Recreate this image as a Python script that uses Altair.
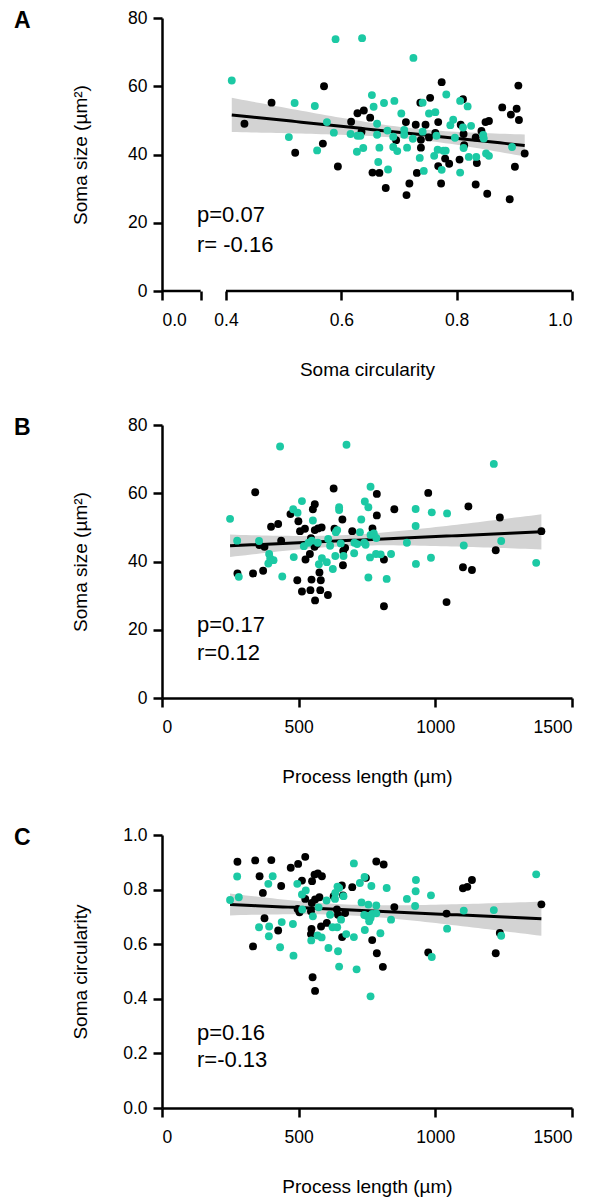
import altair as alt
import numpy as np
import pandas as pd

# ---------------- data ----------------
# Panel A: soma circularity (x) vs soma size (y)
a_black_x = [0.432, 0.479, 0.570, 0.520, 0.568, 0.594, 0.617, 0.628, 0.639, 0.650, 0.635, 0.654, 0.666,
             0.677, 0.718, 0.713, 0.695, 0.712, 0.729, 0.746, 0.754, 0.737, 0.774, 0.768, 0.738, 0.738,
             0.752, 0.763, 0.731, 0.773, 0.768, 0.780, 0.787, 0.805, 0.811, 0.807, 0.812, 0.813, 0.833,
             0.843, 0.850, 0.856, 0.835, 0.833, 0.853, 0.879, 0.894, 0.904, 0.908, 0.907, 0.901, 0.892, 0.918]
a_black_y = [49.0, 55.2, 60.0, 40.5, 43.2, 36.5, 49.6, 52.1, 52.9, 50.8, 46.7, 34.7, 34.6,
             30.2, 31.5, 28.1, 44.2, 49.5, 48.7, 48.7, 56.6, 55.2, 61.2, 49.5, 44.3, 42.0,
             45.0, 46.3, 34.6, 31.5, 36.6, 38.8, 37.3, 38.5, 56.2, 48.7, 46.0, 42.7, 45.0,
             46.9, 49.5, 49.8, 37.5, 31.2, 28.5, 53.8, 51.7, 53.4, 50.1, 60.2, 36.4, 26.9, 40.3]
a_teal_x = [0.410, 0.590, 0.636, 0.725, 0.519, 0.554, 0.509, 0.575, 0.587, 0.558, 0.653, 0.656, 0.674,
            0.692, 0.704, 0.662, 0.616, 0.628, 0.633, 0.662, 0.680, 0.690, 0.709, 0.709, 0.724, 0.741,
            0.741, 0.752, 0.763, 0.782, 0.806, 0.819, 0.794, 0.789, 0.811, 0.825, 0.765, 0.797, 0.846,
            0.847, 0.812, 0.767, 0.777, 0.781, 0.761, 0.821, 0.834, 0.851, 0.856, 0.896, 0.736, 0.774,
            0.806, 0.743, 0.627, 0.638, 0.666, 0.690, 0.697, 0.714, 0.664, 0.681]
a_teal_y = [61.7, 73.8, 74.1, 68.3, 55.1, 54.2, 45.1, 49.5, 46.4, 41.2, 57.4, 54.0, 55.1,
            55.7, 52.0, 49.0, 46.0, 45.5, 45.5, 45.8, 47.0, 45.2, 47.2, 45.8, 44.6, 46.7,
            55.2, 52.0, 52.4, 57.6, 55.7, 54.1, 50.2, 48.6, 47.9, 48.4, 45.5, 44.9, 45.7,
            44.7, 41.9, 41.4, 41.1, 41.1, 39.6, 39.3, 39.3, 40.3, 39.6, 42.2, 39.0, 35.5,
            34.7, 35.2, 40.8, 41.9, 42.0, 42.2, 41.0, 42.0, 37.8, 35.6]

# Panel B: process length (x) vs soma size (y)
b_black_x = [341, 276, 333, 370, 356, 375, 399, 425, 436, 470, 499, 505, 523, 495, 512, 543, 579, 560,
             607, 547, 581, 576, 525, 541, 552, 559, 559, 571, 584, 545, 558, 567, 628, 660, 631, 662,
             670, 663, 696, 770, 786, 786, 812, 812, 850, 974, 1041, 1101, 1134, 1121, 1236, 1221, 1388]
b_black_y = [60.3, 36.5, 36.5, 37.3, 44.8, 44.3, 50.2, 51.0, 46.1, 53.9, 51.8, 48.9, 49.6, 34.5, 31.2,
             31.6, 31.6, 28.6, 30.2, 34.7, 34.5, 36.8, 40.6, 42.2, 55.3, 56.8, 49.2, 49.7, 50.0, 46.8,
             44.3, 45.1, 61.4, 52.3, 49.6, 38.9, 44.0, 43.1, 48.9, 49.7, 59.8, 53.5, 40.6, 26.9, 55.3,
             60.1, 28.1, 38.3, 37.5, 56.1, 52.9, 43.3, 48.9]
b_teal_x = [432, 675, 1214, 249, 275, 281, 355, 392, 396, 389, 408, 440, 480, 496, 512, 482, 552, 519,
            536, 548, 570, 574, 585, 603, 608, 615, 625, 648, 648, 641, 636, 654, 634, 664, 703, 729,
            724, 704, 714, 740, 745, 742, 755, 763, 763, 784, 775, 761, 783, 800, 755, 822, 838, 896,
            928, 928, 929, 987, 984, 1043, 1104, 1241, 1369]
b_teal_y = [73.7, 74.2, 68.6, 52.5, 46.1, 35.5, 46.0, 42.2, 40.9, 39.4, 40.4, 35.6, 55.3, 54.3, 57.7,
            41.3, 52.0, 44.5, 45.5, 46.1, 45.5, 39.2, 41.0, 39.8, 46.6, 44.6, 37.8, 55.9, 55.1, 49.2,
            48.6, 45.3, 41.6, 41.6, 42.4, 52.3, 48.6, 45.5, 45.1, 45.5, 44.9, 57.6, 55.9, 61.9, 47.8,
            46.9, 48.2, 41.2, 42.2, 42.1, 35.3, 34.9, 42.2, 45.5, 55.4, 50.4, 39.3, 54.4, 41.1, 54.1,
            44.7, 46.0, 39.6]

# Panel C: process length (x) vs soma circularity (y)
c_black_x = [276, 341, 400, 471, 498, 524, 357, 436, 369, 512, 549, 558, 570, 585, 524, 503, 496, 548,
             560, 576, 545, 375, 425, 333, 547, 545, 582, 603, 551, 560, 628, 658, 662, 640, 644, 670,
             659, 696, 746, 784, 811, 769, 786, 808, 850, 974, 1041, 1101, 1117, 1134, 1236, 1221, 1388]
c_black_y = [0.902, 0.907, 0.908, 0.880, 0.894, 0.920, 0.849, 0.813, 0.788, 0.833, 0.831, 0.855, 0.859,
             0.849, 0.766, 0.717, 0.729, 0.751, 0.764, 0.772, 0.721, 0.695, 0.650, 0.592, 0.656, 0.637,
             0.665, 0.678, 0.479, 0.429, 0.776, 0.815, 0.779, 0.727, 0.708, 0.714, 0.626, 0.809, 0.843,
             0.903, 0.892, 0.615, 0.567, 0.517, 0.736, 0.570, 0.712, 0.805, 0.810, 0.835, 0.641, 0.567, 0.746]
c_teal_x = [249, 275, 281, 355, 392, 391, 389, 405, 432, 438, 479, 481, 495, 512, 526, 513, 552, 546,
            569, 584, 573, 602, 609, 615, 624, 641, 633, 634, 642, 648, 664, 655, 644, 648, 674, 702,
            712, 702, 724, 741, 730, 755, 784, 740, 750, 769, 784, 758, 763, 742, 799, 766, 822, 763,
            838, 896, 929, 928, 926, 984, 987, 1043, 1104, 1214, 1241, 1369]
c_teal_y = [0.762, 0.848, 0.772, 0.662, 0.665, 0.629, 0.821, 0.849, 0.589, 0.681, 0.674, 0.558, 0.821,
            0.782, 0.797, 0.727, 0.702, 0.614, 0.632, 0.625, 0.735, 0.760, 0.586, 0.708, 0.662, 0.662,
            0.766, 0.788, 0.811, 0.806, 0.776, 0.690, 0.574, 0.518, 0.637, 0.626, 0.508, 0.896, 0.824,
            0.846, 0.753, 0.745, 0.742, 0.707, 0.703, 0.711, 0.713, 0.684, 0.696, 0.652, 0.640, 0.813,
            0.806, 0.409, 0.690, 0.766, 0.835, 0.794, 0.740, 0.779, 0.553, 0.657, 0.723, 0.725, 0.631, 0.856]

panel_letters = ["A", "B", "C"]
p_texts = ["p=0.07", "p=0.17", "p=0.16"]
r_texts = ["r= -0.16", "r=0.12", "r=-0.13"]

a_x_ticks = [0.0, 0.067, 0.4, 0.6, 0.8, 1.0]
a_x_segments = {"x": [0.0, 0.4], "x2": [0.067, 1.0]}
len_ticks = [0, 500, 1000, 1500]
size_ticks = [0, 20, 40, 60, 80]
circ_ticks = [0.0, 0.2, 0.4, 0.6, 0.8, 1.0]

TEAL = "#1CC9A4"
BLACK = "#000000"
BAND = "#D3D3D3"
FONT = "Liberation Sans"
W, H = 410, 273


def fit_band(xs, ys, n_grid=60):
    x = np.asarray(xs, float)
    y = np.asarray(ys, float)
    n = len(x)
    slope, intercept = np.polyfit(x, y, 1)
    resid = y - (slope * x + intercept)
    s = np.sqrt(np.sum(resid ** 2) / (n - 2))
    xbar = x.mean()
    sxx = np.sum((x - xbar) ** 2)
    grid = np.linspace(x.min(), x.max(), n_grid)
    yhat = slope * grid + intercept
    se = s * np.sqrt(1.0 / n + (grid - xbar) ** 2 / sxx)
    t = 1.98
    band = pd.DataFrame({"x": grid, "y": yhat - t * se, "y2": yhat + t * se})
    line = pd.DataFrame({"x": grid, "y": yhat})
    return band, line


def panel(letter, bx, by, tx, ty, xenc, yenc, ptxt, rtxt, p_y, r_y, extra=None):
    band, line = fit_band(bx + tx, by + ty)
    layers = [
        alt.Chart(band).mark_area(color=BAND, opacity=1).encode(x=xenc, y=yenc, y2="y2:Q"),
        alt.Chart(line).mark_line(color=BLACK, strokeWidth=3).encode(x=xenc, y=yenc),
        alt.Chart(pd.DataFrame({"x": bx, "y": by})).mark_circle(size=62, color=BLACK, opacity=1).encode(x=xenc, y=yenc),
        alt.Chart(pd.DataFrame({"x": tx, "y": ty})).mark_circle(size=62, color=TEAL, opacity=1).encode(x=xenc, y=yenc),
        alt.Chart(pd.DataFrame({"t": [ptxt]})).mark_text(align="left", baseline="middle", fontSize=22, font=FONT, color=BLACK)
        .encode(x=alt.value(35), y=alt.value(p_y), text="t:N"),
        alt.Chart(pd.DataFrame({"t": [rtxt]})).mark_text(align="left", baseline="middle", fontSize=22, font=FONT, color=BLACK)
        .encode(x=alt.value(35), y=alt.value(r_y), text="t:N"),
        alt.Chart(pd.DataFrame({"t": [letter]})).mark_text(align="left", baseline="middle", fontSize=23, font=FONT,
                                                           fontWeight="bold", color=BLACK)
        .encode(x=alt.value(-148), y=alt.value(3), text="t:N"),
    ]
    if extra is not None:
        layers.append(extra)
    return alt.layer(*layers).properties(width=W, height=H)


def xaxis(title, values, fmt=None, label_expr=None, domain=True):
    kw = dict(values=values, title=title, titleY=78, titleBaseline="middle", labelPadding=11, domain=domain)
    if fmt:
        kw["format"] = fmt
    if label_expr:
        kw["labelExpr"] = label_expr
    return alt.Axis(**kw)


def yaxis(title, values, fmt=None):
    kw = dict(values=values, title=title, titleX=-82, titleBaseline="middle", labelPadding=6)
    if fmt:
        kw["format"] = fmt
    return alt.Axis(**kw)


# Panel A (broken x axis: 0 .. break, then 0.4 .. 1.0)
a_xscale = alt.Scale(domain=[0.0, 0.067, 0.4, 1.0], range=[0, 38.7, 64, W], nice=False, zero=False)
a_x = alt.X("x:Q", scale=a_xscale,
            axis=xaxis("Soma circularity", a_x_ticks,
                       label_expr="datum.value > 0.01 && datum.value < 0.3 ? '' : format(datum.value, '.1f')",
                       domain=False))
size_y = alt.Y("y:Q", scale=alt.Scale(domain=[0, 80], nice=False), axis=yaxis("Soma size (µm²)", size_ticks, fmt="d"))
a_rules = alt.Chart(pd.DataFrame(a_x_segments)).mark_rule(color=BLACK, strokeWidth=2.5).encode(
    x=a_x, x2="x2:Q", y=alt.datum(0))
chart_a = panel(panel_letters[0], a_black_x, a_black_y, a_teal_x, a_teal_y, a_x, size_y,
                p_texts[0], r_texts[0], 197, 227, extra=a_rules)

len_x = alt.X("x:Q", scale=alt.Scale(domain=[0, 1500], nice=False),
              axis=xaxis("Process length (µm)", len_ticks, fmt="d"))
chart_b = panel(panel_letters[1], b_black_x, b_black_y, b_teal_x, b_teal_y, len_x, size_y,
                p_texts[1], r_texts[1], 200, 228)

circ_y = alt.Y("y:Q", scale=alt.Scale(domain=[0, 1], nice=False),
               axis=yaxis("Soma circularity", circ_ticks, fmt=".1f"))
chart_c = panel(panel_letters[2], c_black_x, c_black_y, c_teal_x, c_teal_y, len_x, circ_y,
                p_texts[2], r_texts[2], 198, 225)

chart = (
    alt.vconcat(chart_a, alt.vconcat(chart_b, chart_c, spacing=40), spacing=37)
    .properties(padding={"left": 6, "top": 1, "right": 5, "bottom": 5}, background="white")
    .configure_view(stroke=None)
    .configure_axis(
        grid=False,
        domainColor=BLACK, domainWidth=2.5,
        tickColor=BLACK, tickWidth=2.5, tickSize=9,
        labelFont=FONT, labelFontSize=17.5, labelColor=BLACK,
        titleFont=FONT, titleFontSize=19, titleFontWeight="normal", titleColor=BLACK,
    )
)

chart.save("out.html", embed_options={"renderer": "svg", "actions": False})
